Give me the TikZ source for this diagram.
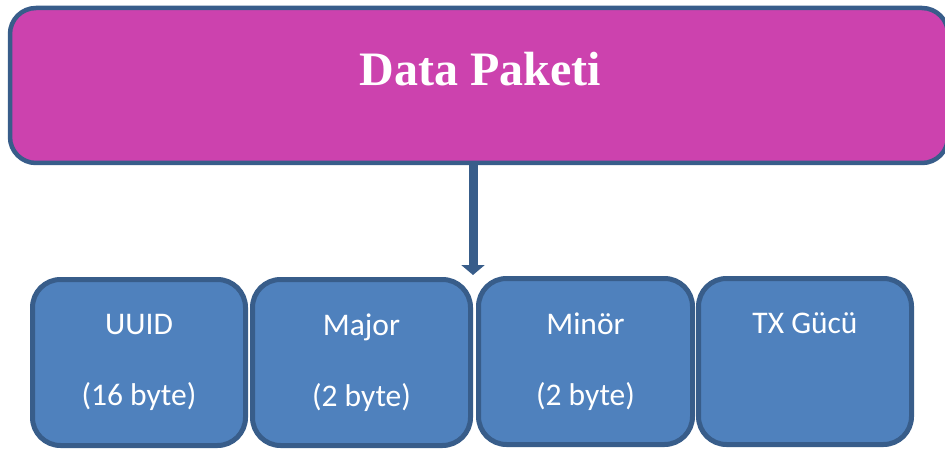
\documentclass[tikz,border=0pt]{standalone}
\usepackage{fontspec}
\setmainfont{Liberation Serif}
\newfontfamily\calibri{Carlito}
\usetikzlibrary{arrows.meta,positioning}

\definecolor{kenar}{HTML}{385D8A}
\definecolor{pembe}{HTML}{CC42AE}
\definecolor{mavi}{HTML}{4F81BD}

\tikzset{
  paketbox/.style={draw=kenar, fill=pembe, line width=4.5pt, rounded corners=26pt,
    minimum width=938pt, minimum height=155pt, inner sep=0pt},
  fieldbox/.style={draw=kenar, fill=mavi, line width=5pt, rounded corners=28pt,
    minimum width=213pt, minimum height=166pt, inner sep=0pt, align=center,
    text=white, font=\calibri\fontsize{31.5}{71}\selectfont},
  oklar/.style={draw=kenar, line width=9pt, -{Triangle[width=23pt,length=10pt]}}
}

\begin{document}
\begin{tikzpicture}[x=1pt,y=-1pt]
      \useasboundingbox (0,0) rectangle (945,449);
      \node[paketbox] (paket) at (479,85.5) {};
      \node[anchor=base, text=white, font=\bfseries\fontsize{48}{52}\selectfont] (baslik) at (480,86) {Data Paketi};
      \node[fieldbox] (uuid) at (139,362.5) {UUID\\(16 byte)};
      \node[fieldbox, minimum width=218pt] (major) at (361.5,362.5) {Major\\(2 byte)};
      \node[fieldbox, minimum width=214pt] (minor) at (585.5,361.5) {Minör\\(2 byte)};
      \node[fieldbox] (txgucu) at (805,361.5) {TX Gücü\\\vphantom{(2 byte)}};
      \coordinate (ucu) at ([yshift=2pt]major.north east);
      \draw[oklar] (paket.south -| ucu) -- (ucu);
    \end{tikzpicture}
\end{document}
